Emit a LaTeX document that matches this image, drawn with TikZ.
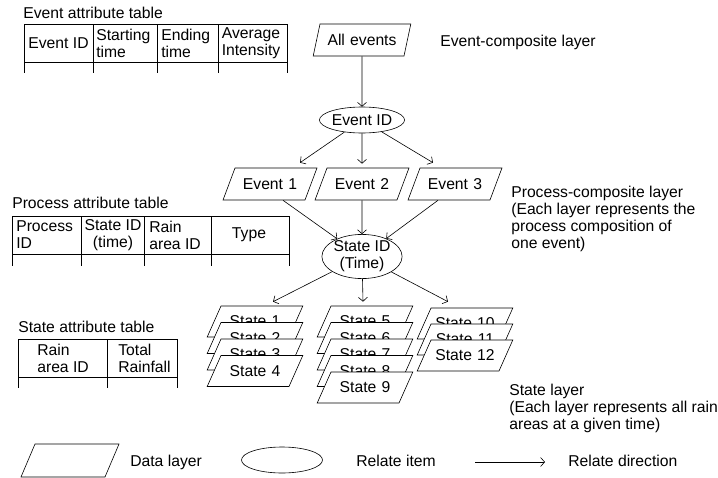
\documentclass[tikz,border=0pt]{standalone}
\usepackage{fontspec}
\setmainfont{Liberation Sans}
\usetikzlibrary{shapes.geometric,arrows.meta}
\tikzset{
  layer/.style = {draw, fill=white, trapezium, trapezium left angle=66, trapezium right angle=114,
    inner sep=0pt, text width=68pt, align=center, text height=20.5pt, text depth=10.5pt},
  item/.style = {draw, ellipse, inner sep=0pt, align=center},
  rel/.style = {-{Straight Barb[length=4pt,width=9pt]}},
  head/.style = {inner sep=0pt, align=left},
  note/.style = {inner sep=0pt, align=left}
}
\begin{document}
\begin{tikzpicture}[x=1pt, y=-1pt, line width=0.6pt, font=\fontsize{15.7}{17}\selectfont]
    \useasboundingbox (0,0) rectangle (718,477);
    % event attribute table
    \node[note, anchor=base west] (evtitle) at (23,18.5) {Event attribute table};
    \draw (24,24) -- (287,24) (24,62) -- (287,62);
    \foreach \x in {24,93,157,218,287} \draw (\x,24) -- (\x,73);
    \node[head] (evid) at (58.5,43) {Event ID};
    \node[head, anchor=west] (evstart) at (96,43) {Starting\\time};
    \node[head, anchor=west] (evend) at (161,43) {Ending\\time};
    \node[head, align=center] (evavg) at (251,43) {Average\\Intensity};
    % process attribute table
    \node[note, anchor=base west] (prtitle) at (12,208) {Process attribute table};
    \draw (12,216) -- (289,216) (12,254) -- (289,254);
    \foreach \x in {12,81,144,211,289} \draw (\x,216) -- (\x,266);
    \node[head, anchor=west] (prid) at (16,235) {Process\\ID};
    \node[head, align=center] (prstate) at (113,235) {State ID\\(time)};
    \node[head, anchor=west] (prrain) at (149,235) {Rain\\area ID};
    \node[head] (prtype) at (249,235) {Type};
    % state attribute table
    \node[note, anchor=base west] (sttitle) at (18,332) {State attribute table};
    \draw (18,339) -- (177,339) (18,377) -- (177,377);
    \foreach \x in {18,107,177} \draw (\x,339) -- (\x,388);
    \node[head, anchor=west] (strain) at (37,358) {Rain\\area ID};
    \node[head, anchor=west] (sttotal) at (118,358) {Total\\Rainfall};
    % layers
    \node[layer, trapezium left angle=78, trapezium right angle=102, text width=84pt, text height=21pt, text depth=11pt] (allev) at (362,40) {All events};
    \node[item, minimum width=81pt, minimum height=26pt] (eid) at (362,120) {Event ID};
    \node[layer, trapezium left angle=69.5, trapezium right angle=110.5, text width=70pt, text height=21pt, text depth=11pt] (e1) at (270,184) {Event 1};
    \node[layer, trapezium left angle=69.5, trapezium right angle=110.5, text width=70pt, text height=21pt, text depth=11pt] (e2) at (362,184) {Event 2};
    \node[layer, trapezium left angle=69.5, trapezium right angle=110.5, text width=70pt, text height=21pt, text depth=11pt] (e3) at (455,184) {Event 3};
    \node[item, minimum width=76pt, minimum height=43pt] (sid) at (362,256.5) {State ID\\(Time)};
    \foreach \i in {1,...,4} \node[layer] (s\i) at (255,{305+16.5*\i}) {State \i};
    \foreach \i in {5,...,9} \node[layer] (s\i) at (365,{305+16.5*(\i-4)}) {State \i};
    \foreach \i in {10,11,12} \node[layer] (s\i) at (465,{323.5+16*(\i-10)}) {State \i};
    % relate directions
    \draw[rel] (allev) -- (eid);
    \draw[rel] (eid) -- ([xshift=30pt,yshift=5pt]e1.north);
    \draw[rel] (eid) -- ([yshift=4pt]e2.north);
    \draw[rel] (eid) -- ([xshift=-22pt,yshift=5pt]e3.north);
    \draw[rel] ([xshift=13pt]e1.south) -- (sid);
    \draw[rel] (e2) -- (sid);
    \draw[rel] ([xshift=-17pt]e3.south) -- (sid);
    \draw[rel] (sid) -- ([xshift=18pt,yshift=4pt]s1.north);
    \draw[rel] (sid) -- ([xshift=-2pt,yshift=4pt]s5.north);
    \draw[rel] (sid) -- ([xshift=-17pt,yshift=6pt]s10.north);
    % layer notes
    \node[note, anchor=base west] (evlayer) at (440,46) {Event-composite layer};
    \node[note, anchor=north west] (prlayer) at (511,186) {Process-composite layer\\(Each layer represents the\\process composition of\\one event)};
    \node[note, anchor=north west] (stlayer) at (509,384) {State layer\\(Each layer represents all rain\\areas at a given time)};
    % legend
    \node[layer, trapezium left angle=67, trapezium right angle=113, text width=70pt, text height=21pt, text depth=12pt] (legdata) at (70,460.5) {};
    \node[note, anchor=base west] (legdatatxt) at (130,466) {Data layer};
    \node[item, minimum width=81pt, minimum height=26pt] (legitem) at (282,460) {};
    \node[note, anchor=base west] (legitemtxt) at (356,466) {Relate item};
    \coordinate (lega) at (475,462);
    \coordinate (legb) at (545,462);
    \draw[rel] (lega) -- (legb);
    \node[note, anchor=base west] (legreltxt) at (568,466) {Relate direction};
\end{tikzpicture}
\end{document}
